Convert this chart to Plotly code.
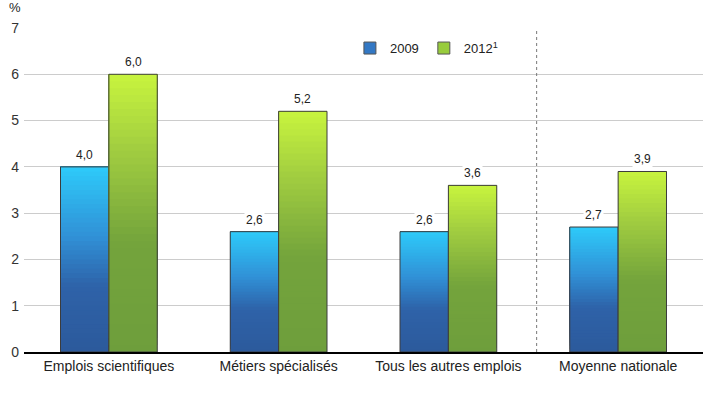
import plotly.graph_objects as go

categories = ["Emplois scientifiques", "Métiers spécialisés", "Tous les autres emplois", "Moyenne nationale"]
values_2009 = [4.0, 2.6, 2.6, 2.7]
values_2012 = [6.0, 5.2, 3.6, 3.9]
series_names = ["2009", "2012<sup>1</sup>"]
y_ticks = [0, 1, 2, 3, 4, 5, 6, 7]

FONT = "Liberation Sans, Arial, sans-serif"
BARGAP = 0.43
N_SEG = 40

blue_stops = [(0.0, (44, 90, 156)), (0.35, (46, 98, 168)), (0.62, (48, 144, 214)), (1.0, (46, 203, 250))]
green_stops = [(0.0, (110, 158, 60)), (0.4, (116, 164, 60)), (0.72, (160, 204, 64)), (1.0, (200, 244, 62))]


def interp(stops, t):
    for (t0, c0), (t1, c1) in zip(stops[:-1], stops[1:]):
        if t <= t1:
            f = (t - t0) / (t1 - t0) if t1 > t0 else 0
            return "rgb(%d,%d,%d)" % tuple(round(a + (b - a) * f) for a, b in zip(c0, c1))
    return "rgb(%d,%d,%d)" % stops[-1][1]


fig = go.Figure()

for vals, stops, grp in [(values_2009, blue_stops, "a"), (values_2012, green_stops, "b")]:
    for k in range(N_SEG):
        t = (k + 0.5) / N_SEG
        # each segment runs from its base up to the bar top; later ones overlay earlier ones
        fig.add_trace(go.Bar(
            x=categories,
            y=[v * (N_SEG - k) / N_SEG for v in vals],
            base=[v * k / N_SEG for v in vals],
            offsetgroup=grp,
            marker=dict(color=interp(stops, t), line=dict(width=0)),
            showlegend=False, hoverinfo="skip",
        ))
    fig.add_trace(go.Bar(
        x=categories, y=vals, offsetgroup=grp,
        marker=dict(color="rgba(0,0,0,0)", line=dict(color="#3c3c3c", width=1)),
        showlegend=False, hoverinfo="skip",
    ))

# legend entries
for name, col, grp in [(series_names[0], "#3378c4", "a"), (series_names[1], "#98cc3c", "b")]:
    fig.add_trace(go.Bar(
        x=categories, y=[None] * len(categories), offsetgroup=grp, name=name,
        marker=dict(color=col, line=dict(color="#555555", width=1)),
    ))

# value labels
half = (1 - BARGAP) / 4
for i, cat in enumerate(categories):
    for vals, sign in [(values_2009, -1), (values_2012, 1)]:
        v = vals[i]
        fig.add_annotation(
            x=i + sign * half, y=v, xref="x", yref="y",
            text=("%.1f" % v).replace(".", ","), showarrow=False,
            yanchor="bottom", yshift=3, bgcolor="white",
            font=dict(size=12, color="#222222", family=FONT),
        )

fig.add_annotation(x=0, y=1, xref="paper", yref="paper", xshift=-17, yshift=11,
                   text="%", showarrow=False, xanchor="left", yanchor="bottom",
                   font=dict(size=13, color="#222222", family=FONT))

fig.add_shape(type="line", xref="x", yref="paper", x0=2.52, x1=2.52, y0=0, y1=1,
              line=dict(color="#777777", width=1, dash="3px,3px"))

fig.update_layout(
    width=720, height=395,
    margin=dict(l=24, r=17, t=28, b=43),
    barmode="group", bargap=BARGAP, bargroupgap=0,
    plot_bgcolor="white", paper_bgcolor="white",
    font=dict(family=FONT, color="#222222"),
    legend=dict(orientation="h", x=0.48, y=0.938, xanchor="left", yanchor="middle",
                font=dict(size=13, family=FONT, color="#222222"),
                bgcolor="rgba(0,0,0,0)", itemwidth=30),
)
fig.update_xaxes(showline=True, linecolor="black", linewidth=2, ticks="", automargin=False,
                 tickfont=dict(size=14, family=FONT, color="#222222"), showgrid=False)
fig.update_yaxes(range=[0, 7], tickvals=y_ticks, showgrid=True, gridcolor="#cccccc",
                 gridwidth=1, zeroline=False, automargin=False,
                 tickfont=dict(size=14, family=FONT, color="#333333"),
                 ticklabelstandoff=4)

# remove the page's default 8px body margin so the figure fills the window
fig.write_html("out.html", config={"displayModeBar": False},
               post_script="document.body.style.margin='0';document.body.style.overflow='hidden';")
